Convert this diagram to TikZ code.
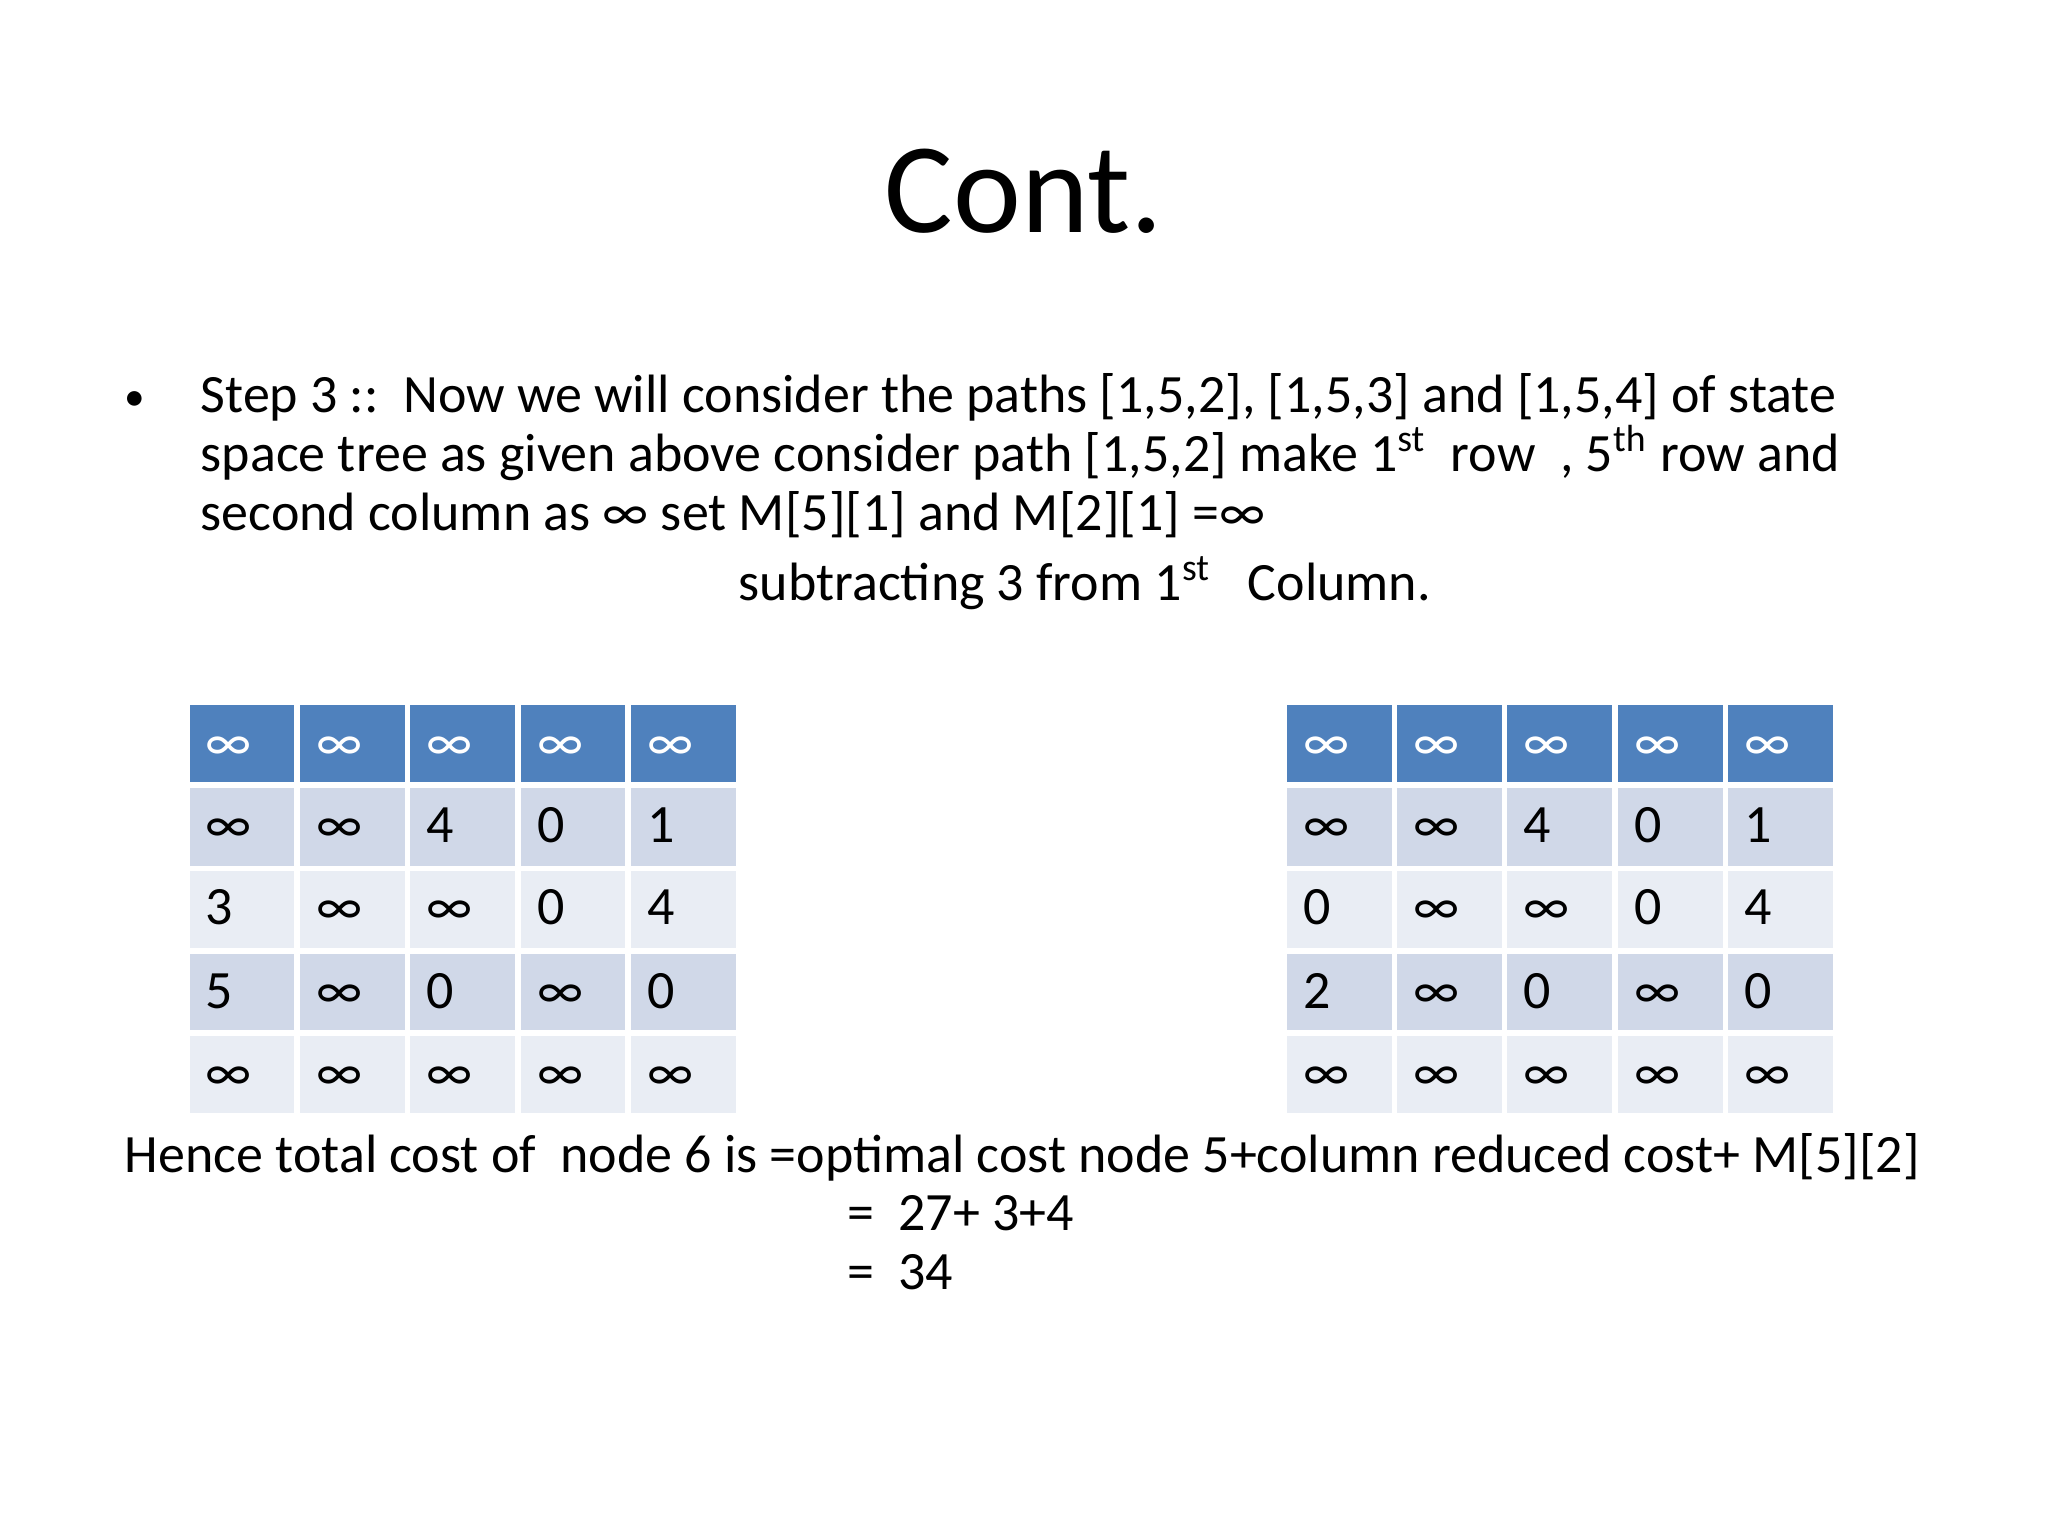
\documentclass[tikz,border=0pt]{standalone}
\usepackage{fontspec}
\setmainfont{Carlito}
\definecolor{hdr}{HTML}{4F81BD}
\definecolor{odd}{HTML}{D0D8E8}
\definecolor{evn}{HTML}{E9EDF4}
\begin{document}
\begin{tikzpicture}[x=0.01cm,y=-0.01cm,
  body/.style={anchor=base west,inner sep=0pt,font=\fontsize{11.75}{14}\selectfont},
  cell/.style={draw=white,line width=1.2pt}]
\useasboundingbox (0,0) rectangle (1568,1176);
\node[anchor=base,inner sep=0pt,font=\fontsize{28}{30}\selectfont] (title) at (784,178) {Cont.};
\node[body,font=\fontsize{9}{10}\selectfont] (bul) at (95,314) {\textbullet};
\node[body] (l1) at (153,316) {Step 3 ::\ \ Now we will consider the paths [1,5,2], [1,5,3] and [1,5,4] of state};
\node[body] (l2) at (153,361) {space tree as given above consider path [1,5,2] make 1\textsuperscript{st}\ \ row\ \ , 5\textsuperscript{th} row and};
\node[body] (l3) at (153,406) {second column as ∞ set M[5][1] and M[2][1] =∞};
\node[body] (l4) at (565,460) {subtracting 3 from 1\textsuperscript{st}\ \ \ Column.};
\node[body] (b1) at (95,898) {Hence total cost of\ \ node 6 is =optimal cost node 5+column reduced cost+ M[5][2]};
\node[body] (b2) at (648,942) {=\ \ 27+ 3+4};
\node[body] (b3) at (648,987) {=\ \ 34};
\def\drawtable#1#2#3{%
  \foreach \r/\ya/\yb/\col in {0/538/601/hdr,1/601/665/odd,2/665/728/evn,3/728/791/odd,4/791/854/evn}{
    \foreach \c in {0,...,4}{
      \fill[\col] (#1+\c*84.5,\ya) rectangle (#1+\c*84.5+84.5,\yb);
      \draw[cell] (#1+\c*84.5,\ya) rectangle (#1+\c*84.5+84.5,\yb);
    }
  }
  \foreach \v [count=\c from 0] in {∞,∞,∞,∞,∞}{\node[body,text=white] at (#1+\c*84.5+14,582) {\v};}
  \foreach \v [count=\c from 0] in {∞,∞,4,0,1}{\node[body] at (#1+\c*84.5+14,645) {\v};}
  \foreach \v [count=\c from 0] in {#2,∞,∞,0,4}{\node[body] at (#1+\c*84.5+14,708) {\v};}
  \foreach \v [count=\c from 0] in {#3,∞,0,∞,0}{\node[body] at (#1+\c*84.5+14,772) {\v};}
  \foreach \v [count=\c from 0] in {∞,∞,∞,∞,∞}{\node[body] at (#1+\c*84.5+14,835) {\v};}
}
\drawtable{143}{3}{5}
\drawtable{983}{0}{2}
\end{tikzpicture}
\end{document}
